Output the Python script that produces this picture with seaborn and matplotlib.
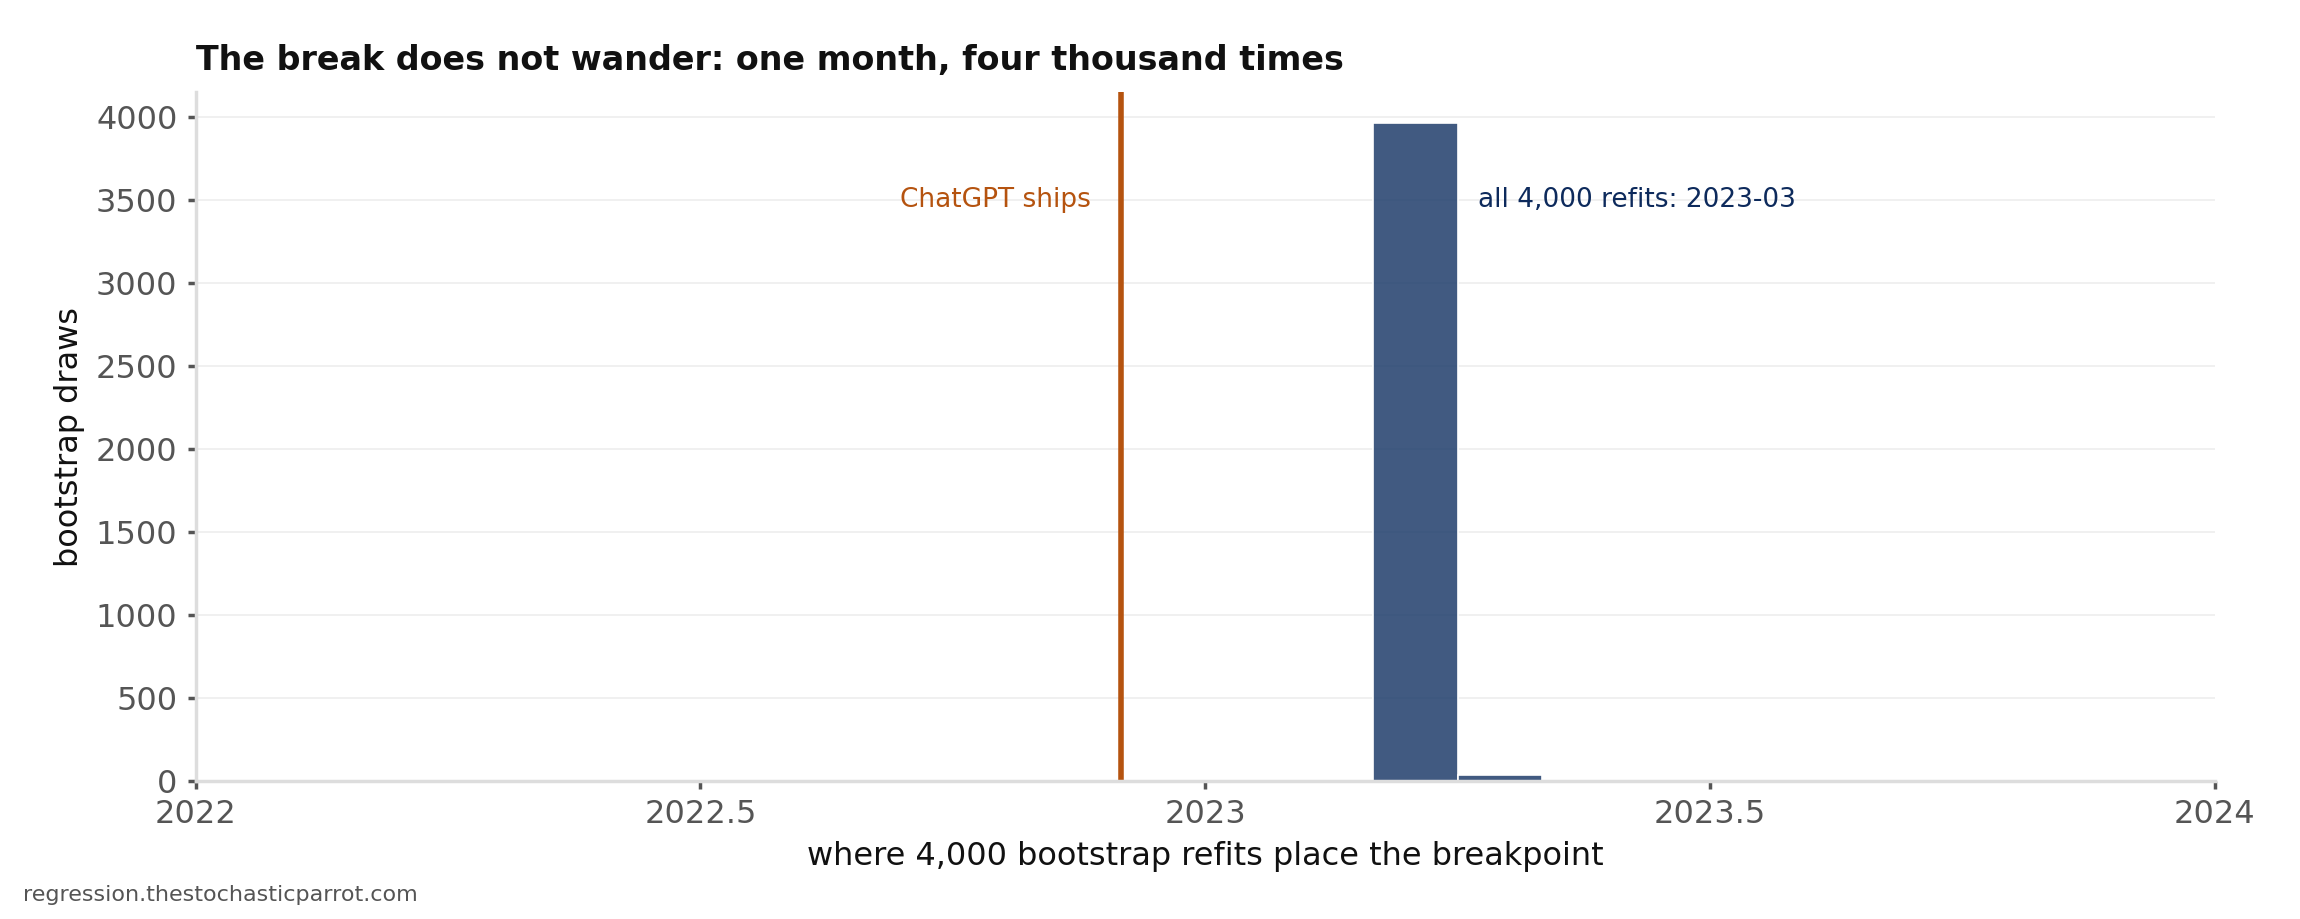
import matplotlib
matplotlib.use("Agg")
import matplotlib.pyplot as plt
import seaborn as sns
import numpy as np

bin_centers = [2023 + 2.5/12, 2023 + 3.5/12]
counts = [3960, 40]
bin_edges = [2023 + 2/12, 2023 + 3/12, 2023 + 4/12]
chatgpt = 2022 + 11/12
xticks = [2022, 2022.5, 2023, 2023.5, 2024]
xtick_labels = ["2022", "2022.5", "2023", "2023.5", "2024"]

sns.set_theme(style="white")
plt.rcParams['font.family'] = ['DejaVu Sans']
fig = plt.figure(figsize=(11.5, 4.595), dpi=200)
ax = fig.add_axes([0.085, 0.15, 0.878, 0.75])
sns.histplot(x=bin_centers, weights=counts, bins=bin_edges, ax=ax,
             color="#1f3d6b", alpha=0.85, edgecolor="white", linewidth=0.6)
ax.axvline(chatgpt, color="#b5530f", lw=2)
ax.text(chatgpt - 0.03, 3500, "ChatGPT ships", color="#b5530f", ha="right", va="center", fontsize=9.5)
ax.text(2023 + 3/12 + 0.02, 3500, "all 4,000 refits: 2023-03", color="#0d2a5c", ha="left", va="center", fontsize=9.5)
ax.set_xlim(2022, 2024)
ax.set_ylim(0, 4150)
ax.set_xticks(xticks)
ax.set_xticklabels(xtick_labels)
ax.set_yticks(range(0, 4001, 500))
ax.yaxis.grid(True, color="#eeeeee", lw=0.6)
ax.set_axisbelow(True)
ax.tick_params(axis="both", labelsize=11.5, colors="#555555", length=3, left=True, bottom=True)
for s in ["top", "right"]:
    ax.spines[s].set_visible(False)
for s in ["left", "bottom"]:
    ax.spines[s].set_color("#dddddd")
ax.set_xlabel("where 4,000 bootstrap refits place the breakpoint", fontsize=11.5, color="#111111")
ax.set_ylabel("bootstrap draws", fontsize=11.5, color="#111111")
ax.set_title("The break does not wander: one month, four thousand times", loc="left",
             fontsize=12, fontweight="bold", color="#111111", pad=8)
fig.text(0.01, 0.02, "regression.thestochasticparrot.com", fontsize=8, color="#555555")
fig.savefig("out.png", dpi=200)
